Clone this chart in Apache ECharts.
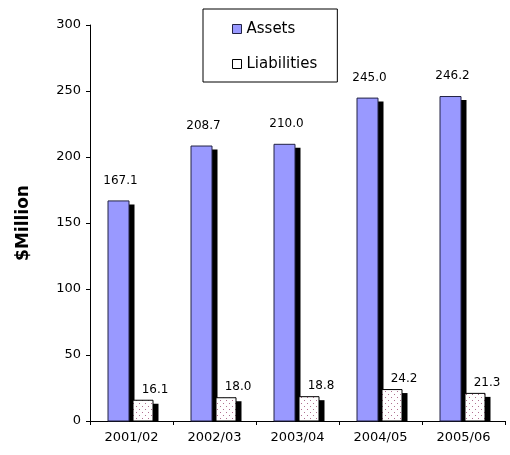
<!DOCTYPE html>
<html>
<head>
<meta charset="utf-8">
<script src="https://cdn.jsdelivr.net/npm/echarts@6/dist/echarts.min.js"></script>
<style>
  html, body { margin: 0; padding: 0; background: #fff; }
  #chart { width: 510px; height: 455px; }
</style>
</head>
<body>
<div id="chart"></div>
<script>
// Fiscal years and balance-sheet totals ($Million)
var years = ['2001/02', '2002/03', '2003/04', '2004/05', '2005/06'];
var assets = [167.1, 208.7, 210.0, 245.0, 246.2];
var liabilities = [16.1, 18.0, 18.8, 24.2, 21.3];
var yTicks = [0, 50, 100, 150, 200, 250, 300];

var font = '"DejaVu Sans", Verdana, sans-serif';

// Dotted fill for the liabilities bars
function dotPattern() {
  var c = document.createElement('canvas');
  c.width = 6; c.height = 6;
  var g = c.getContext('2d');
  g.fillStyle = '#ffffff';
  g.fillRect(0, 0, 6, 6);
  g.fillStyle = '#b07090';
  g.fillRect(1, 1, 1, 1);
  g.fillRect(4, 4, 1, 1);
  return c;
}

// Bar with a solid drop shadow on its right side and a value label above it.
// dx0/dx1: left/right edge of the bar relative to the category centre (px).
function shadowBar(dx0, dx1, fill, stroke, labelDx, labelGap) {
  return function (params, api) {
    var idx = api.value(0);
    var val = api.value(1);
    var top = api.coord([idx, val]);
    var base = api.coord([idx, 0]);
    var cx = top[0];
    var x0 = cx + dx0, w = dx1 - dx0;
    var h = base[1] - top[1];
    return {
      type: 'group',
      children: [
        {
          type: 'rect',
          shape: { x: x0 + 5, y: top[1] + 4, width: w, height: Math.max(h - 4, 0) },
          style: { fill: '#000' }
        },
        {
          type: 'rect',
          shape: { x: x0 + 0.5, y: top[1] + 0.5, width: w - 1, height: h - 0.5 },
          style: { fill: fill, stroke: stroke, lineWidth: 1 }
        },
        {
          type: 'text',
          x: cx + (dx0 + dx1) / 2 + labelDx,
          y: top[1] - labelGap,
          style: {
            text: val.toFixed(1),
            textAlign: 'center',
            textVerticalAlign: 'bottom',
            font: '12px ' + font,
            fill: '#000'
          }
        }
      ]
    };
  };
}

var chart = echarts.init(document.getElementById('chart'), null, { renderer: 'canvas' });
var dots = dotPattern();

chart.setOption({
  backgroundColor: '#fff',
  animation: false,
  textStyle: { fontFamily: font, color: '#000' },
  legend: {
    orient: 'vertical',
    left: 203,
    top: 9,
    padding: [12, 20, 10, 29],
    borderColor: '#000',
    borderWidth: 1,
    itemWidth: 9,
    itemHeight: 9,
    itemGap: 19,
    icon: 'rect',
    textStyle: { fontFamily: font, fontSize: 15, lineHeight: 16, color: '#000', padding: [0, 0, 0, 0] },
    data: [
      { name: 'Assets', itemStyle: { color: '#9999ff', borderColor: '#222244', borderWidth: 1 } },
      { name: 'Liabilities', itemStyle: { color: '#ffffff', borderColor: '#000', borderWidth: 1 } }
    ]
  },
  grid: { left: 90, right: 5, top: 25, bottom: 34 },
  xAxis: {
    type: 'category',
    data: years,
    axisLine: { lineStyle: { color: '#000', width: 1 } },
    axisTick: { show: true, length: 4, lineStyle: { color: '#000' } },
    axisLabel: { fontFamily: font, fontSize: 13, color: '#000', margin: 10 }
  },
  yAxis: {
    type: 'value',
    min: yTicks[0],
    max: yTicks[yTicks.length - 1],
    interval: yTicks[1] - yTicks[0],
    name: '$Million',
    nameLocation: 'middle',
    nameGap: 58,
    nameRotate: 90,
    nameTextStyle: { fontFamily: font, fontSize: 17, fontWeight: 'bold', color: '#000' },
    splitLine: { show: false },
    axisLine: { show: true, lineStyle: { color: '#000', width: 1 } },
    axisTick: { show: true, length: 4, lineStyle: { color: '#000' } },
    axisLabel: { fontFamily: font, fontSize: 13, color: '#000', margin: 9 }
  },
  series: [
    {
      name: 'Assets',
      type: 'custom',
      itemStyle: { color: '#9999ff' },
      encode: { x: 0, y: 1 },
      data: assets.map(function (v, i) { return [i, v]; }),
      renderItem: shadowBar(-24, -2, '#9999ff', '#222244', 2, 14)
    },
    {
      name: 'Liabilities',
      type: 'custom',
      itemStyle: { color: '#ffffff' },
      encode: { x: 0, y: 1 },
      data: liabilities.map(function (v, i) { return [i, v]; }),
      renderItem: shadowBar(1, 22, { image: dots, repeat: 'repeat' }, '#000', 12, 4)
    }
  ]
});
</script>
</body>
</html>
